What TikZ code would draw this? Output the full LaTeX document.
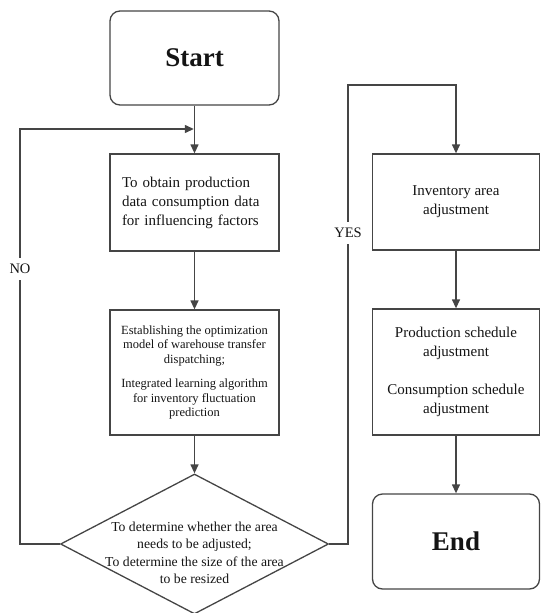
\documentclass[tikz,border=0pt]{standalone}
\usepackage{fontspec}
\setmainfont{Liberation Serif}
\usetikzlibrary{shapes.geometric,arrows.meta}
\definecolor{edge}{HTML}{454545}
\definecolor{ink}{HTML}{141414}
\begin{document}
\begin{tikzpicture}[x=1pt,y=-1pt,
  proc/.style={draw=edge, line width=1.3pt, text=ink, inner sep=0pt, align=center},
  term/.style={proc, rounded corners=10pt, font=\fontsize{27}{30}\selectfont\bfseries},
  bodytext/.style={font=\fontsize{15}{19}\selectfont},
  smalltext/.style={font=\fontsize{12.5}{14.5}\selectfont},
  flow/.style={draw=edge, line width=1.3pt, -{Triangle[length=9pt,width=8pt]}},
  tag/.style={fill=white, text=ink, font=\fontsize{14.5}{16}\selectfont, inner xsep=2pt, inner ysep=6pt}]
\useasboundingbox (0,0) rectangle (541,613);

% left column
\node[term, minimum width=169pt, minimum height=94pt] (start) at (194.5,58) {Start};
\node[proc, bodytext, minimum width=169pt, minimum height=97pt, text width=145pt, align=left]
  (obtain) at (194.5,202.5) {To obtain production\\data consumption data\\for influencing factors};
\node[proc, smalltext, minimum width=169pt, minimum height=125pt]
  (model) at (194.5,372.5) {Establishing the optimization\\model of warehouse transfer\\dispatching;\\[10pt]Integrated learning algorithm\\for inventory fluctuation\\prediction};
\node[draw=edge, line width=1.3pt, diamond, minimum width=268pt, minimum height=140pt, inner sep=0pt]
  (decide) at (194.5,544) {};
\node[text=ink, align=center, font=\fontsize{13.7}{17.5}\selectfont]
  (decidetext) at (194.5,553) {To determine whether the area\\needs to be adjusted;\\To determine the size of the area\\to be resized};

% right column
\node[proc, bodytext, minimum width=167pt, minimum height=96pt]
  (area) at (456,202) {Inventory area\\adjustment};
\node[proc, bodytext, minimum width=167pt, minimum height=126pt]
  (sched) at (456,372) {Production schedule\\adjustment\\[19pt]Consumption schedule\\adjustment};
\node[term, minimum width=167pt, minimum height=95pt] (finish) at (456,541.5) {End};

% connectors
\coordinate (loopin) at (193.8,129);
\coordinate (nocorner) at (20,129);
\coordinate (yescorner) at (348,85);

\draw[flow] (start) -- (obtain);
\draw[flow] (obtain) -- (model);
\draw[flow] (model) -- (decide);
\draw[flow] (decide.west) -| (nocorner) -- (loopin);
\draw[flow] (decide.east) -| (yescorner) -| (area.north);
\draw[flow] (area) -- (sched);
\draw[flow] (sched) -- (finish);

\node[tag] (nolabel) at (20,269) {NO};
\node[tag] (yeslabel) at (348,233) {YES};
\end{tikzpicture}
\end{document}
